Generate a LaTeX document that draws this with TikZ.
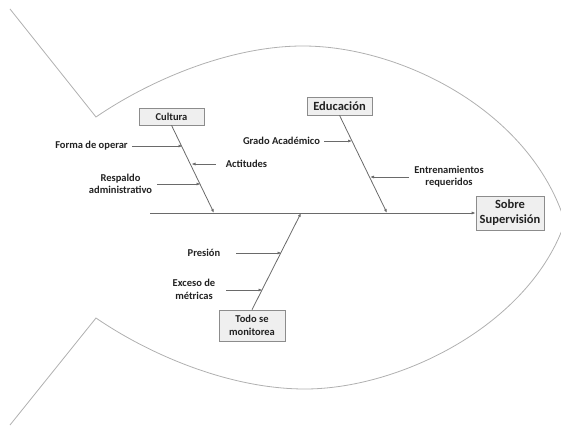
\documentclass[tikz,border=0pt]{standalone}
\usepackage{fontspec}
\setmainfont{Carlito}
\usetikzlibrary{arrows.meta}
\definecolor{outl}{HTML}{B0B0B0}
\definecolor{bonec}{HTML}{6A6A6A}
\definecolor{txt}{HTML}{222222}
\definecolor{boxd}{HTML}{8C8C8C}
\definecolor{boxf}{HTML}{EFEFEF}
\tikzset{
  outline/.style={draw=outl, line width=0.8pt},
  bone/.style={draw=bonec, line width=0.8pt, -{Latex[length=4pt,width=3pt]}},
  sub/.style={draw=bonec, line width=0.7pt, -{Latex[length=4pt,width=3pt]}},
  lab/.style={font=\fontsize{10.5}{12.5}\selectfont\bfseries, text=txt, align=center, inner sep=1pt},
  catbox/.style={draw=boxd, line width=0.6pt, fill=boxf, text=txt, align=center, inner sep=0pt, font=\fontsize{10.5}{12.5}\selectfont\bfseries},
  bigbox/.style={catbox, font=\fontsize{12.5}{15}\selectfont\bfseries}
}
\begin{document}
\begin{tikzpicture}[x=1pt,y=-1pt]
\useasboundingbox (0,0) rectangle (561,425);
\begin{scope}
\clip (0,0) rectangle (561,425);
\draw[outline] (10,9) -- (96,117) .. controls (150,80) and (230,46) .. (303,46)
  .. controls (400,46) and (530,110) .. (565,222);
\draw[outline] (10,425) -- (96,318) .. controls (150,355) and (230,389) .. (305,389)
  .. controls (400,389) and (530,325) .. (565,222);
\end{scope}

% category boxes
\node[catbox, minimum width=65pt, minimum height=17pt] (cul) at (171.5,116.5) {Cultura};
\node[bigbox, minimum width=65pt, minimum height=18pt] (edu) at (339.5,106) {Educación};
\node[bigbox, minimum width=68pt, minimum height=34pt] (sob) at (510,213) {Sobre\\Supervisión};
\node[catbox, minimum width=66pt, minimum height=31pt] (todo) at (252,325.5) {Todo se\\monitorea};

% spine
\coordinate (sp0) at (150,213);
\coordinate (c1) at (214,213);
\coordinate (c2) at (387,213);
\coordinate (c3) at (301,213);
\draw[bone] (sp0) -- (sob.west);
\draw[bone] (cul.south) -- (c1);
\draw[bone] (edu.south) -- (c2);
\draw[bone] (todo.north) -- (c3);

% labels
\node[lab] (forma) at (91.5,146) {Forma de operar};
\node[lab] (act) at (246.5,164) {Actitudes};
\node[lab] (resp) at (120.5,184) {Respaldo\\administrativo};
\node[lab] (grado) at (281.5,141) {Grado Académico};
\node[lab] (entr) at (449,176.5) {Entrenamientos\\requeridos};
\node[lab] (pres) at (204,253) {Presión};
\node[lab] (exc) at (194,289.5) {Exceso de\\métricas};

\coordinate (t1) at (182.5,146);
\coordinate (t2) at (191.5,164);
\coordinate (t3) at (200.5,184);
\coordinate (t4) at (352,141);
\coordinate (t5) at (370,177);
\coordinate (t6) at (281.5,253);
\coordinate (t7) at (262.5,290);

\draw[sub] ([xshift=3pt]forma.east) -- (t1);
\draw[sub] ([xshift=-9pt]act.west) -- (t2);
\draw[sub] ([xshift=4pt]resp.east |- t3) -- (t3);
\draw[sub] ([xshift=3pt]grado.east) -- (t4);
\draw[sub] ([xshift=-4pt]entr.west |- t5) -- (t5);
\draw[sub] ([xshift=15pt]pres.east) -- (t6);
\draw[sub] ([xshift=10pt]exc.east |- t7) -- (t7);
\end{tikzpicture}
\end{document}
